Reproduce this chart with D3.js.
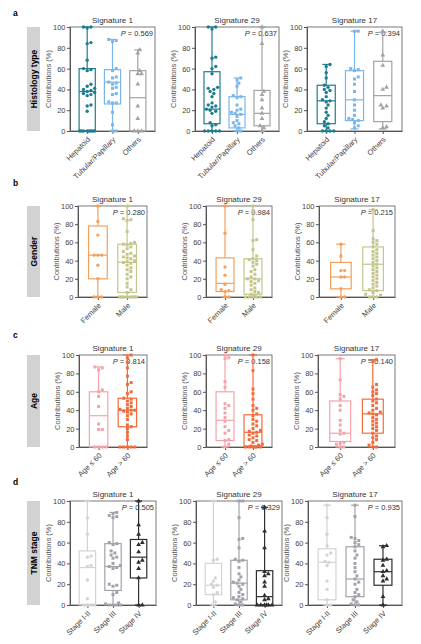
<!DOCTYPE html>
<html>
<head>
<meta charset="utf-8">
<script src="https://cdn.jsdelivr.net/npm/d3@7"></script>
<style>
  body { margin: 0; background: #fff; }
  text { font-family: "Liberation Sans", Arial, Helvetica, sans-serif; }
</style>
</head>
<body>
<svg width="421" height="644"></svg>
<script>
// titles and categories
const signatures = ["Signature 1", "Signature 29", "Signature 17"];
const rowTitles = ["Histology type", "Gender", "Age", "TNM stage"];
const rowLetters = ["a", "b", "c", "d"];
const histologyGroups = ["Hepatoid", "Tubular/Papillary", "Others"];
const genderGroups = ["Female", "Male"];
const ageGroups = ["Age \u2264 60", "Age > 60"];
const stageGroups = ["Stage I-II", "Stage III", "Stage IV"];
const yTicks = [0, 20, 40, 60, 80, 100];

const pValues = [
  ["0.569", "0.637", "0.394"],
  ["0.280", "0.984", "0.215"],
  ["0.814", "0.158", "0.140"],
  ["0.505", "0.329", "0.935"]
];

// box stats per signature / group: [min, q1, median, q3, max]
const histologyBoxes = [
  [[0, 0, 38, 60, 100], [0, 26, 47, 59, 88], [0, 0, 32, 58, 78]],
  [[0, 7, 21, 57, 100], [0, 3, 16, 33, 51], [0, 5, 17, 39, 100]],
  [[0, 7, 29, 44, 64], [2, 10, 30, 58, 96], [2, 9, 34, 67, 95]]
];
const genderBoxes = [
  [[0, 20, 46, 78, 100], [0, 5, 38, 58, 100]],
  [[0, 6, 15, 43, 100], [0, 3, 20, 42, 100]],
  [[0, 9, 22, 38, 58], [0, 7, 36, 55, 96]]
];
const ageBoxes = [
  [[0, 0, 34, 60, 87], [0, 22, 40, 53, 100]],
  [[0, 7, 29, 60, 100], [0, 1, 16, 35, 100]],
  [[0, 6, 15, 50, 96], [0, 15, 36, 52, 95]]
];
const stageBoxes = [
  [[0, 0, 36, 52, 100], [0, 14, 37, 59, 89], [0, 26, 46, 63, 100]],
  [[0, 10, 19, 40, 100], [0, 5, 21, 43, 100], [0, 0, 8, 33, 94]],
  [[0, 5, 41, 54, 96], [0, 8, 25, 56, 96], [0, 19, 32, 44, 57]]
];

// individual samples per signature / group (%)
const histologyPoints = [
  [[100, 100, 99, 85, 84, 68, 60, 59, 58, 45, 43, 41, 40, 39, 38, 37, 36, 35, 34, 25, 24, 19, 0, 0, 0, 0, 0, 0, 0, 0],
   [88, 87, 86, 60, 58, 52, 51, 47, 46, 45, 42, 41, 36, 35, 28, 27, 27, 18, 6, 0, 0],
   [78, 75, 58, 55, 55, 45, 24, 12, 0, 0, 0]],
  [[100, 100, 98, 71, 70, 62, 60, 55, 42, 41, 40, 38, 36, 33, 27, 25, 24, 23, 21, 20, 19, 17, 8, 6, 5, 0, 0, 0, 0, 0],
   [51, 49, 46, 43, 34, 33, 32, 25, 21, 20, 18, 17, 16, 14, 10, 8, 7, 5, 3, 0, 0],
   [100, 84, 38, 35, 30, 22, 17, 12, 5, 3, 0]],
  [[64, 62, 56, 51, 44, 42, 40, 39, 37, 33, 30, 29, 28, 25, 22, 18, 15, 12, 9, 7, 5, 3, 0, 0, 0, 0],
   [96, 96, 60, 59, 58, 52, 50, 45, 38, 30, 25, 20, 15, 12, 11, 10, 8, 5, 3],
   [96, 73, 63, 42, 40, 25, 24, 22, 4, 3]]
];
const genderPoints = [
  [[100, 83, 68, 46, 46, 46, 35, 20, 0, 0, 0],
   [100, 86, 85, 84, 72, 60, 59, 58, 57, 55, 53, 50, 48, 47, 45, 44, 43, 42, 40, 39, 38, 37, 35, 32, 30, 28, 25, 22, 20, 15, 11, 8, 5, 0, 0, 0, 0, 0, 0, 0, 0]],
  [[100, 70, 33, 24, 14, 8, 7, 6, 0, 0],
   [100, 95, 85, 63, 62, 52, 45, 42, 41, 40, 38, 36, 34, 30, 28, 25, 22, 20, 20, 18, 17, 15, 13, 10, 8, 6, 5, 3, 2, 0, 0, 0, 0, 0]],
  [[58, 45, 29, 29, 22, 22, 9, 0, 0],
   [96, 73, 64, 62, 60, 58, 55, 52, 50, 48, 46, 44, 42, 40, 38, 36, 34, 32, 30, 28, 26, 24, 22, 20, 18, 16, 14, 12, 10, 8, 7, 5, 3, 2, 0, 0, 0]]
];
const agePoints = [
  [[87, 86, 84, 62, 60, 55, 44, 25, 19, 19, 0, 0, 0, 0],
   [100, 97, 92, 86, 77, 70, 68, 60, 58, 53, 52, 50, 48, 46, 44, 42, 41, 40, 40, 39, 38, 36, 34, 30, 24, 22, 20, 16, 12, 8, 0, 0, 0, 0, 0]],
  [[100, 97, 96, 71, 65, 47, 45, 42, 37, 32, 28, 22, 18, 15, 8, 7, 3, 0],
   [100, 83, 63, 58, 52, 45, 42, 40, 36, 34, 30, 28, 25, 23, 20, 18, 17, 16, 15, 13, 12, 10, 8, 7, 5, 3, 2, 1, 0, 0, 0, 0, 0, 0]],
  [[96, 73, 57, 55, 52, 45, 40, 29, 24, 18, 15, 14, 5, 4, 3, 0, 0],
   [95, 93, 68, 65, 62, 60, 58, 56, 52, 50, 48, 45, 42, 40, 38, 37, 36, 35, 32, 30, 28, 26, 24, 22, 20, 18, 15, 12, 10, 8, 5, 2, 0, 0]]
];
const stagePoints = [
  [[100, 84, 68, 47, 46, 38, 37, 24, 6, 0, 0, 0, 0],
   [89, 88, 86, 85, 84, 60, 59, 58, 52, 50, 48, 46, 45, 40, 38, 37, 36, 35, 20, 19, 18, 12, 10, 2, 1, 0, 0, 0, 0],
   [100, 77, 68, 60, 58, 51, 43, 41, 35, 26, 0, 0]],
  [[100, 44, 43, 26, 23, 20, 19, 17, 12, 10, 3, 0],
   [100, 100, 84, 64, 63, 55, 44, 43, 42, 36, 30, 27, 24, 22, 21, 20, 18, 15, 12, 10, 8, 7, 6, 5, 3, 1, 0, 0],
   [94, 71, 55, 32, 30, 28, 22, 18, 9, 6, 5, 0, 0, 0, 0, 0, 0]],
  [[96, 84, 68, 57, 50, 48, 42, 41, 38, 23, 15, 5, 0, 0],
   [96, 85, 65, 64, 62, 60, 58, 56, 52, 48, 45, 40, 36, 32, 28, 25, 22, 20, 15, 12, 10, 8, 5, 3, 1, 0, 0],
   [57, 56, 44, 43, 38, 33, 32, 28, 25, 23, 8, 0]]
];

// styling per row
const rows = [
  {groups: histologyGroups, boxes: histologyBoxes, points: histologyPoints,
   colors: ["#1f7d8e", "#78b6ec", "#a3a3a3"], shapes: [d3.symbolCircle, d3.symbolSquare, d3.symbolTriangle]},
  {groups: genderGroups, boxes: genderBoxes, points: genderPoints,
   colors: ["#f5a05c", "#c4c68c"], shapes: [d3.symbolCircle, d3.symbolSquare]},
  {groups: ageGroups, boxes: ageBoxes, points: agePoints,
   colors: ["#f5a3a9", "#f26b3c"], shapes: [d3.symbolSquare, d3.symbolSquare]},
  {groups: stageGroups, boxes: stageBoxes, points: stagePoints,
   colors: ["#d3d3d3", "#a2a2aa", "#2e2e2e"], shapes: [d3.symbolCircle, d3.symbolSquare, d3.symbolTriangle]}
];

// panel frames (pixels)
const layout = [
  {top: 27, bottom: 131, letterY: 16, xs: [[70, 155], [195, 279], [307, 402]]},
  {top: 206, bottom: 297, letterY: 186, xs: [[78, 147], [206, 272], [319, 395]]},
  {top: 355, bottom: 447, letterY: 338, xs: [[79, 147], [206, 272], [318, 395]]},
  {top: 501, bottom: 605, letterY: 485, xs: [[70, 156], [196, 282], [308, 402]]}
];

const svg = d3.select("svg");

// deterministic swarm: spread equal values sideways
function swarm(vals, y, cx, diam, halfW) {
  const placed = [];
  const sorted = vals.slice().sort((a, b) => a - b);
  return sorted.map(v => {
    const py = y(v);
    let best = 0, bestD = -1;
    for (let k = 0; k < 30; k++) {
      const off = k === 0 ? 0 : (k % 2 ? 1 : -1) * Math.ceil(k / 2) * diam * 0.55;
      if (Math.abs(off) > halfW) break;
      let minD = Infinity;
      placed.forEach(p => {
        const d = Math.hypot(p.x - (cx + off), p.y - py);
        if (d < minD) minD = d;
      });
      if (minD >= diam) { best = off; bestD = minD; break; }
      if (minD > bestD) { bestD = minD; best = off; }
    }
    const pt = {x: cx + best, y: py};
    placed.push(pt);
    return pt;
  });
}

rows.forEach((row, r) => {
  const L = layout[r];

  svg.append("text")
    .attr("x", 13).attr("y", L.letterY)
    .attr("font-size", 8.5).attr("font-weight", "bold")
    .text(rowLetters[r]);

  svg.append("rect")
    .attr("x", 27).attr("y", L.top)
    .attr("width", 13).attr("height", L.bottom - L.top)
    .attr("fill", "#d2d2d2");
  svg.append("text")
    .attr("transform", `translate(36.5,${(L.top + L.bottom) / 2}) rotate(-90)`)
    .attr("text-anchor", "middle")
    .attr("font-size", 8.5).attr("font-weight", "bold")
    .text(rowTitles[r]);

  L.xs.forEach(([x0, x1], s) => {
    const y = d3.scaleLinear().domain([0, 100]).range([L.bottom, L.top]);
    const x = d3.scalePoint().domain(row.groups).range([x0, x1]).padding(0.68);
    const step = x.step();
    const bw = step * 0.64;
    const g = svg.append("g");

    g.append("rect")
      .attr("x", x0).attr("y", L.top)
      .attr("width", x1 - x0).attr("height", L.bottom - L.top)
      .attr("fill", "none").attr("stroke", "#6a6a6a").attr("stroke-width", 0.9);

    const ya = g.append("g")
      .attr("transform", `translate(${x0},0)`)
      .attr("color", "#555")
      .call(d3.axisLeft(y).tickValues(yTicks).tickSize(3).tickPadding(1.5));
    ya.selectAll("text").attr("font-size", 7.5).attr("fill", "#444")
      .attr("font-family", "Liberation Sans, Arial, sans-serif");

    const xa = g.append("g")
      .attr("transform", `translate(0,${L.bottom})`)
      .attr("color", "#555")
      .call(d3.axisBottom(x).tickSize(3).tickSizeOuter(0));
    xa.selectAll("text")
      .attr("font-size", 7.5).attr("fill", "#444")
      .attr("font-family", "Liberation Sans, Arial, sans-serif")
      .attr("text-anchor", "end")
      .attr("dy", null).attr("y", 0)
      .attr("transform", "translate(3,9) rotate(-45)");

    g.append("text")
      .attr("transform", `translate(${x0 - 19},${(L.top + L.bottom) / 2}) rotate(-90)`)
      .attr("text-anchor", "middle")
      .attr("font-size", 7.5).attr("fill", "#555")
      .text("Contributions (%)");

    g.append("text")
      .attr("x", (x0 + x1) / 2).attr("y", L.top - 4)
      .attr("text-anchor", "middle")
      .attr("font-size", 8).attr("fill", "#333")
      .text(signatures[s]);

    const pt = g.append("text")
      .attr("x", x1 - 2).attr("y", L.top + 9)
      .attr("text-anchor", "end")
      .attr("font-size", 7.5).attr("fill", "#333");
    pt.append("tspan").attr("font-style", "italic").text("P");
    pt.append("tspan").text(" = " + pValues[r][s]);

    row.groups.forEach((grp, i) => {
      const cx = x(grp);
      const [mn, q1, md, q3, mx] = row.boxes[s][i];
      const col = row.colors[i];
      const bg = g.append("g").attr("stroke", col).attr("stroke-width", 1.2).attr("fill", "none");
      bg.append("line").attr("x1", cx).attr("x2", cx).attr("y1", y(mx)).attr("y2", y(q3));
      bg.append("line").attr("x1", cx).attr("x2", cx).attr("y1", y(q1)).attr("y2", y(mn));
      bg.append("line").attr("x1", cx - bw * 0.22).attr("x2", cx + bw * 0.22).attr("y1", y(mx)).attr("y2", y(mx));
      bg.append("line").attr("x1", cx - bw * 0.22).attr("x2", cx + bw * 0.22).attr("y1", y(mn)).attr("y2", y(mn));
      bg.append("rect").attr("x", cx - bw / 2).attr("y", y(q3))
        .attr("width", bw).attr("height", Math.max(0.5, y(q1) - y(q3)));
      bg.append("line").attr("x1", cx - bw / 2).attr("x2", cx + bw / 2).attr("y1", y(md)).attr("y2", y(md));

      const pts = swarm(row.points[s][i], y, cx, 3.4, bw / 2 + 1);
      const sym = d3.symbol().type(row.shapes[i]).size(row.shapes[i] === d3.symbolTriangle ? 10 : 9);
      g.append("g").selectAll("path").data(pts).join("path")
        .attr("d", sym)
        .attr("transform", d => `translate(${d.x},${d.y})`)
        .attr("fill", col);
    });
  });
});
</script>
</body>
</html>
